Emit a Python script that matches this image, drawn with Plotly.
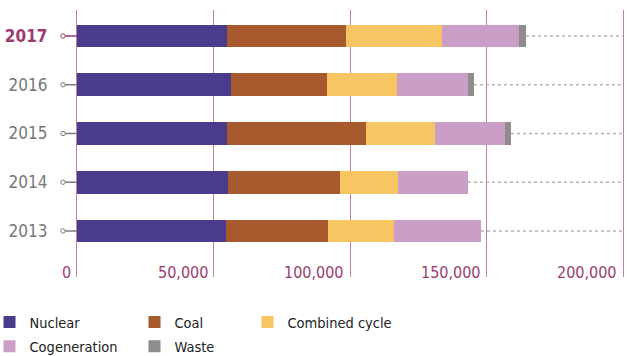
import plotly.graph_objects as go

years = ["2013", "2014", "2015", "2016", "2017"]
nuclear = [54400, 55200, 54800, 56200, 54800]
coal = [37400, 41000, 50900, 35300, 43600]
combined = [24200, 21200, 25300, 25600, 35200]
cogen = [31900, 25700, 25700, 26000, 28200]
waste = [0, 0, 2200, 2200, 2600]
x_ticks = [0, 50000, 100000, 150000, 200000]
x_labels = ["0", "50,000", "100,000", "150,000", "200,000"]

series = [
    ("Nuclear", nuclear, "#4a3b8c", "legend"),
    ("Coal", coal, "#a85a2f", "legend2"),
    ("Combined cycle", combined, "#f7c662", "legend3"),
    ("Cogeneration", cogen, "#cb9ec8", "legend"),
    ("Waste", waste, "#8f8d8b", "legend2"),
]

FONT = "DejaVu Sans Condensed"
PINK = "#9b3b6e"
GRID = "#c27fa3"
XMAX = 200000
XR = [0, 201000]
YR = [-0.944, 4.533]
L, W, H = 77, 549, 267

fig = go.Figure()
for name, vals, color, lg in series:
    fig.add_trace(go.Bar(
        y=years, x=vals, name=name, orientation="h",
        marker=dict(color=color, line=dict(width=0)),
        width=0.47, legend=lg, legendgroup=name,
    ))

totals = [sum(v) for v in zip(nuclear, coal, combined, cogen, waste)]
for y, t in zip(years, totals):
    fig.add_trace(go.Scatter(
        x=[t, XMAX], y=[y, y], mode="lines",
        line=dict(color="#b4b4b4", width=1.4, dash="dot"),
        showlegend=False, hoverinfo="skip",
    ))

shapes = []
for i, y in enumerate(years):
    py = (i - YR[0]) / (YR[1] - YR[0])
    col = PINK if y == "2017" else "#7a7a7a"
    x0 = -14 / W
    shapes.append(dict(type="line", xref="paper", yref="paper", x0=x0, x1=0, y0=py, y1=py,
                       line=dict(color=col, width=1.5)))
    r = 2.2
    shapes.append(dict(type="circle", xref="paper", yref="paper",
                       x0=x0 - r / W, x1=x0 + r / W, y0=py - r / H, y1=py + r / H,
                       line=dict(color=col, width=1), fillcolor="white"))

annotations = []
for v, lab in zip(x_ticks, x_labels):
    annotations.append(dict(x=v, y=0, xref="x", yref="paper", text=lab, showarrow=False,
                            xanchor="right", yanchor="middle", xshift=-4, yshift=5,
                            font=dict(size=16, color=PINK, family=FONT)))

ticktext = [("<b><span style='color:%s'>%s</span></b>" % (PINK, y)) if y == "2017" else y for y in years]

legend_common = dict(yref="container", xref="paper", y=1 - 306.0 / 356, yanchor="top",
                     xanchor="left", orientation="v", traceorder="grouped",
                     font=dict(size=14.5, color="#222", family=FONT),
                     bgcolor="rgba(0,0,0,0)", tracegroupgap=2.5)

fig.update_layout(
    width=629, height=356,
    margin=dict(l=L, r=3, t=10, b=79, autoexpand=False),
    barmode="stack",
    plot_bgcolor="white", paper_bgcolor="white",
    font=dict(family=FONT, color="#333"),
    shapes=shapes,
    annotations=annotations,
    xaxis=dict(
        range=XR, tickvals=x_ticks, showticklabels=False,
        showgrid=True, gridcolor=GRID, gridwidth=1.3,
        zeroline=False, showline=False, automargin=False,
    ),
    yaxis=dict(
        range=YR, tickvals=years, ticktext=ticktext,
        showgrid=False, zeroline=False, showline=True, linecolor=GRID, linewidth=1.3,
        ticklabelstandoff=25, automargin=False,
        tickfont=dict(size=17, color="#777777", family=FONT),
    ),
    legend=dict(legend_common, x=(-10.5 - L) / W),
    legend2=dict(legend_common, x=(134.5 - L) / W),
    legend3=dict(legend_common, x=(247.5 - L) / W),
)

fig.write_html("out.html")
